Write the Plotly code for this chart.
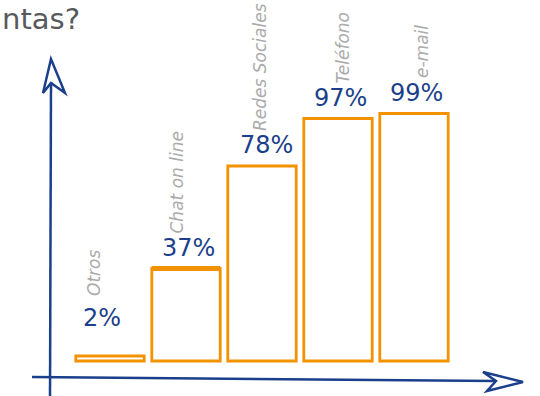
import plotly.graph_objects as go

categories = ["Otros", "Chat on line", "Redes Sociales", "Teléfono", "e-mail"]
values = [2, 37, 78, 97, 99]
pct_labels = ["2%", "37%", "78%", "97%", "99%"]
title_text = "ntas?"

W, H = 540, 396
ORANGE = "#f39200"
BLUE = "#1b3f8b"
GRAY = "#ababab"
SCALE = 2.5  # pixels per percent
PCT_XSHIFT = [-8, 2, 4, 2, 2]
CAT_XSHIFT = [-16, -10, -2, 4, 8]

def px(x):
    return x / W

def py(y):
    return 1 - y / H

fig = go.Figure()
fig.add_trace(go.Bar(
    x=list(range(len(categories))), y=values,
    marker=dict(color="white", line=dict(color=ORANGE, width=2.8)),
    width=0.9, hoverinfo="skip", showlegend=False,
))

annotations = []
for i, (c, v, t) in enumerate(zip(categories, values, pct_labels)):
    annotations.append(dict(
        x=i, y=v, xref="x", yref="y", text=t, showarrow=False,
        xanchor="center", yanchor="bottom", yshift=5 if i else 22, xshift=PCT_XSHIFT[i],
        font=dict(family="DejaVu Sans", size=24, color=BLUE),
    ))
    annotations.append(dict(
        x=i, y=v, xref="x", yref="y", text=c, showarrow=False,
        textangle=-90, xanchor="center", yanchor="bottom",
        yshift=33 if i else 58, xshift=CAT_XSHIFT[i],
        font=dict(family="DejaVu Sans", size=17, color=GRAY, style="italic"),
    ))
annotations.append(dict(
    x=0, y=1, xref="paper", yref="paper", text=title_text, showarrow=False,
    xanchor="left", yanchor="top", yshift=0, xshift=0,
    font=dict(family="DejaVu Sans", size=29, color="#58595b"),
))

shapes = [
    # y axis
    dict(type="line", xref="paper", yref="paper", x0=px(50), y0=py(396), x1=px(51), y1=py(84),
         line=dict(color=BLUE, width=2.5)),
    dict(type="path", xref="paper", yref="paper",
         path=f"M {px(51)} {py(59)} L {px(43)} {py(93)} L {px(51)} {py(83)} L {px(65)} {py(93)} Z",
         line=dict(color=BLUE, width=2.5), fillcolor="rgba(0,0,0,0)"),
    # x axis
    dict(type="line", xref="paper", yref="paper", x0=px(32), y0=py(377), x1=px(496), y1=py(381),
         line=dict(color=BLUE, width=2.5)),
    dict(type="path", xref="paper", yref="paper",
         path=f"M {px(523)} {py(382)} L {px(483)} {py(372)} L {px(496)} {py(381)} L {px(487)} {py(391)} Z",
         line=dict(color=BLUE, width=2.5), fillcolor="rgba(0,0,0,0)"),
    # thick top edge on the "Chat on line" bar
    dict(type="line", xref="x", yref="y", x0=1 - 0.45, x1=1 + 0.45, y0=values[1], y1=values[1],
         line=dict(color=ORANGE, width=5)),
]

fig.update_layout(
    width=W, height=H, margin=dict(l=0, r=0, t=0, b=0),
    paper_bgcolor="white", plot_bgcolor="white",
    xaxis=dict(range=[-110 / 76, (540 - 110) / 76], visible=False, fixedrange=True),
    yaxis=dict(range=[-35 / SCALE, 361 / SCALE], visible=False, fixedrange=True),
    annotations=annotations, shapes=shapes,
)

fig.write_html("out.html")
